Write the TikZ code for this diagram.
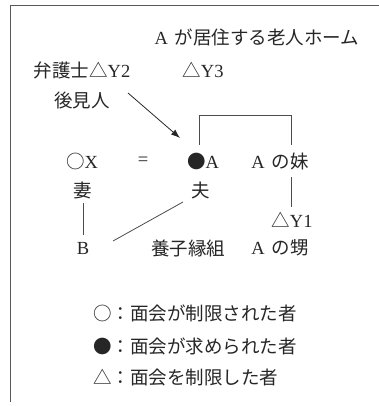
\documentclass[tikz,border=0pt]{standalone}
\usepackage{fontspec}
\setmainfont{Liberation Serif}
\newfontfamily\cjk{Noto Sans CJK JP}
\usetikzlibrary{arrows.meta}
\begin{document}
\begin{tikzpicture}[x=1pt,y=-1pt,
  lbl/.style={inner sep=0pt, text=black!85, font=\fontsize{18.5}{20}\selectfont},
  frameline/.style={draw=black!65, line width=0.9pt},
  link/.style={draw=black!70, line width=0.8pt},
  arr/.style={draw=black!85, line width=0.8pt, -{Latex[length=9pt,width=6.5pt]}}]
\useasboundingbox (0,0) rectangle (379,406);
\draw[frameline] (379,5) -- (10,5) -- (10,402);
% texts
\node[lbl] (home) at (257,37) {A\hspace{7pt}{\cjk が居住する老人ホーム}};
\node[lbl] (lawyer) at (82,70) {{\cjk 弁護士△}Y2};
\node[lbl] (y3) at (203,70) {{\cjk △}Y3};
\node[lbl] (guardian) at (82,100) {{\cjk 後見人}};
\node[lbl] (wifeX) at (82,161) {{\cjk ○}X};
\node[lbl] (eq) at (143,161) {=};
\node[lbl] (husbA) at (203,161) {{\cjk ●}A};
\node[lbl] (sis) at (280,161) {A\hspace{7pt}{\cjk の妹}};
\node[lbl] (wife) at (83,190) {{\cjk 妻}};
\node[lbl] (husband) at (201,190) {{\cjk 夫}};
\node[lbl] (y1) at (292,220) {{\cjk △}Y1};
\node[lbl] (B) at (83,248) {B};
\node[lbl] (adopt) at (188,248) {{\cjk 養子縁組}};
\node[lbl] (nephew) at (280,248) {A\hspace{7pt}{\cjk の甥}};
\node[lbl, anchor=west] (leg1) at (93,313) {{\cjk ○：面会が制限された者}};
\node[lbl, anchor=west] (leg2) at (93,346) {{\cjk ●：面会が求められた者}};
\node[lbl, anchor=west] (leg3) at (93,377) {{\cjk △：面会を制限した者}};
% connectors
\draw[arr] ([shift={(46,-7)}]guardian.center) -- ([shift={(-23,-23)}]husbA.center);
\draw[link] ([shift={(-4,-16)}]husbA.center) -- ([shift={(-4,-46)}]husbA.center) -| ([shift={(11,-16)}]sis.center);
\draw[link] ([shift={(11,16)}]sis.center) -- ([shift={(-1,-13)}]y1.center);
\draw[link] ([shift={(0,13)}]wife.center) -- ([shift={(0,-13)}]B.center);
\draw[link] ([shift={(-18,12)}]husband.center) -- ([shift={(30,-7)}]B.center);
\end{tikzpicture}
\end{document}
